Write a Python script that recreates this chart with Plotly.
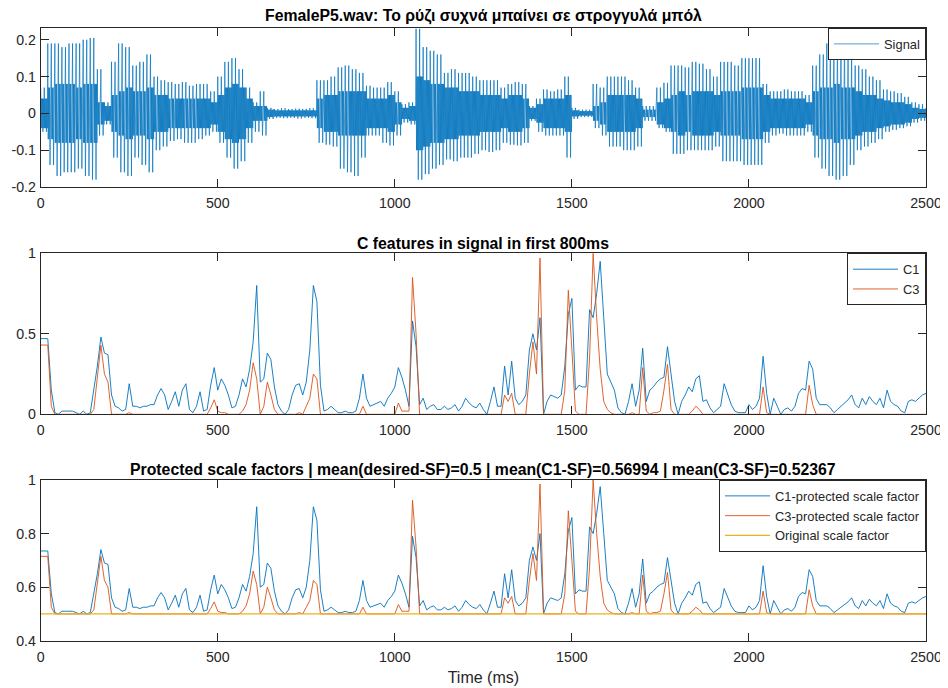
import plotly.graph_objects as go

#------------------------------------------------------------------------------#
#     data                                      #
#------------------------------------------------------------------------------#
# waveform envelope, one value per 20 ms block (outer peaks and dense inner band)
sig_t = list(range(0, 2501, 20))
sig_top = [
    0.07, 0.19, 0.19, 0.18, 0.19, 0.19, 0.2, 0.205, 0.12, 0.03,
    0.14, 0.19, 0.18, 0.13, 0.14, 0.16, 0.1, 0.09, 0.085, 0.08,
    0.085, 0.075, 0.08, 0.08, 0.06, 0.1, 0.14, 0.15, 0.12, 0.07,
    0.03, 0.06, 0.015, 0.012, 0.014, 0.012, 0.013, 0.012, 0.014, 0.09,
    0.09, 0.1, 0.125, 0.13, 0.12, 0.11, 0.075, 0.07, 0.07, 0.085,
    0.06, 0.025, 0.03, 0.23, 0.18, 0.17, 0.16, 0.11, 0.12, 0.11,
    0.11, 0.1, 0.09, 0.09, 0.09, 0.07, 0.08, 0.085, 0.08, 0.02,
    0.04, 0.065, 0.06, 0.065, 0.1, 0.015, 0.01, 0.01, 0.08, 0.07,
    0.1, 0.1, 0.1, 0.09, 0.07, 0.02, 0.02, 0.07, 0.083, 0.13,
    0.13, 0.125, 0.14, 0.135, 0.12, 0.1, 0.14, 0.14, 0.13, 0.15,
    0.15, 0.15, 0.08, 0.06, 0.06, 0.065, 0.06, 0.06, 0.05, 0.13,
    0.16, 0.19, 0.2, 0.2, 0.16, 0.13, 0.12, 0.1, 0.09, 0.065,
    0.06, 0.055, 0.045, 0.03, 0.025, 0.015,
]
sig_bot = [
    -0.05, -0.14, -0.17, -0.16, -0.16, -0.15, -0.17, -0.18, -0.06, -0.03,
    -0.12, -0.16, -0.17, -0.12, -0.14, -0.16, -0.1, -0.09, -0.075, -0.07,
    -0.08, -0.08, -0.07, -0.06, -0.05, -0.08, -0.12, -0.15, -0.13, -0.08,
    -0.05, -0.06, -0.015, -0.012, -0.013, -0.012, -0.014, -0.012, -0.013, -0.08,
    -0.085, -0.09, -0.15, -0.16, -0.17, -0.12, -0.06, -0.06, -0.08, -0.087,
    -0.06, -0.025, -0.03, -0.18, -0.165, -0.15, -0.14, -0.125, -0.13, -0.12,
    -0.12, -0.11, -0.1, -0.105, -0.1, -0.08, -0.085, -0.087, -0.08, -0.02,
    -0.05, -0.06, -0.06, -0.06, -0.12, -0.015, -0.01, -0.01, -0.04, -0.06,
    -0.09, -0.09, -0.1, -0.1, -0.09, -0.02, -0.02, -0.04, -0.05, -0.11,
    -0.11, -0.1, -0.1, -0.1, -0.1, -0.09, -0.13, -0.13, -0.13, -0.14,
    -0.14, -0.14, -0.08, -0.06, -0.055, -0.06, -0.06, -0.06, -0.05, -0.12,
    -0.15, -0.17, -0.18, -0.17, -0.14, -0.1, -0.09, -0.08, -0.07, -0.05,
    -0.045, -0.04, -0.035, -0.025, -0.02, -0.015,
]
sig_core = [
    0.04, 0.07, 0.08, 0.08, 0.08, 0.07, 0.08, 0.08, 0.03, 0.02,
    0.05, 0.06, 0.07, 0.06, 0.06, 0.07, 0.05, 0.05, 0.04, 0.04,
    0.04, 0.04, 0.04, 0.04, 0.03, 0.05, 0.07, 0.08, 0.07, 0.04,
    0.02, 0.02, 0.01, 0.008, 0.008, 0.008, 0.008, 0.008, 0.008, 0.04,
    0.05, 0.05, 0.06, 0.06, 0.06, 0.06, 0.04, 0.04, 0.04, 0.05,
    0.03, 0.015, 0.02, 0.1, 0.09, 0.08, 0.08, 0.07, 0.07, 0.06,
    0.06, 0.06, 0.05, 0.05, 0.05, 0.04, 0.05, 0.05, 0.04, 0.015,
    0.025, 0.04, 0.04, 0.04, 0.05, 0.008, 0.006, 0.006, 0.02, 0.03,
    0.05, 0.05, 0.05, 0.05, 0.04, 0.01, 0.01, 0.03, 0.04, 0.05,
    0.06, 0.05, 0.06, 0.06, 0.06, 0.05, 0.06, 0.06, 0.06, 0.07,
    0.07, 0.07, 0.05, 0.04, 0.04, 0.04, 0.04, 0.04, 0.03, 0.06,
    0.07, 0.07, 0.08, 0.07, 0.07, 0.06, 0.05, 0.05, 0.04, 0.035,
    0.03, 0.03, 0.025, 0.015, 0.012, 0.01,
]

# C features, one value per 10 ms
feat_t = list(range(0, 2501, 10))
c1 = [
    0.47, 0.47, 0.47, 0.15, 0.01, 0.0, 0.02, 0.02, 0.02, 0.02,
    0.01, 0.0, 0.02, 0.0, 0.01, 0.15, 0.3, 0.48, 0.38, 0.37,
    0.12, 0.05, 0.04, 0.02, 0.03, 0.19, 0.05, 0.05, 0.04, 0.05,
    0.05, 0.06, 0.06, 0.12, 0.16, 0.12, 0.03, 0.08, 0.14, 0.05,
    0.15, 0.19, 0.03, 0.01, 0.05, 0.14, 0.02, 0.03, 0.18, 0.29,
    0.15, 0.22, 0.18, 0.12, 0.04, 0.05, 0.12, 0.22, 0.17, 0.28,
    0.45, 0.8, 0.2, 0.22, 0.38, 0.34, 0.17, 0.06, 0.02, 0.0,
    0.03, 0.12, 0.18, 0.19, 0.12, 0.2, 0.4, 0.8, 0.7, 0.18,
    0.02, 0.03, 0.05, 0.03, 0.01, 0.01, 0.02, 0.01, 0.01, 0.02,
    0.1, 0.25, 0.1, 0.05, 0.06, 0.07, 0.08, 0.05, 0.1, 0.13,
    0.17, 0.29, 0.23, 0.15, 0.05, 0.58, 0.42, 0.06, 0.1, 0.03,
    0.05, 0.06, 0.03, 0.03, 0.05, 0.03, 0.04, 0.06, 0.02, 0.05,
    0.1, 0.07, 0.05, 0.04, 0.07, 0.03, 0.0, 0.08, 0.17, 0.05,
    0.05, 0.3, 0.12, 0.33, 0.1, 0.06, 0.08, 0.12, 0.4, 0.5,
    0.4, 0.6, 0.0, 0.08, 0.12, 0.11, 0.1, 0.12, 0.3, 0.62,
    0.72, 0.15, 0.18, 0.17, 0.17, 0.65, 0.6, 0.75, 0.95, 0.6,
    0.25, 0.2, 0.15, 0.04, 0.01, 0.0, 0.08, 0.19, 0.05, 0.15,
    0.41, 0.08, 0.15, 0.17, 0.2, 0.22, 0.23, 0.42, 0.25, 0.08,
    0.0, 0.08, 0.12, 0.17, 0.14, 0.22, 0.24, 0.08, 0.09, 0.04,
    0.01, 0.03, 0.05, 0.19, 0.12, 0.06, 0.02, 0.01, 0.01, 0.01,
    0.06, 0.03, 0.05, 0.1, 0.36, 0.13, 0.0, 0.1, 0.05, 0.0,
    0.03, 0.04, 0.02, 0.05, 0.13, 0.16, 0.15, 0.33, 0.28, 0.1,
    0.06, 0.06, 0.06, 0.04, 0.01, 0.03, 0.05, 0.07, 0.09, 0.12,
    0.06, 0.04, 0.1, 0.06, 0.11, 0.08, 0.06, 0.1, 0.04, 0.15,
    0.08, 0.06, 0.05, 0.02, 0.01, 0.08, 0.09, 0.08, 0.1, 0.12,
    0.13,
]
c3 = [
    0.43, 0.43, 0.43, 0.05, 0, 0, 0, 0, 0, 0,
    0, 0, 0, 0, 0, 0.03, 0.25, 0.43, 0.25, 0.2,
    0, 0, 0, 0, 0, 0.01, 0, 0, 0, 0,
    0, 0, 0, 0, 0, 0, 0, 0, 0, 0,
    0, 0, 0, 0, 0, 0, 0, 0, 0.04, 0.09,
    0.02, 0.01, 0.01, 0, 0, 0, 0, 0.02, 0.06, 0.15,
    0.32, 0.22, 0.0, 0.05, 0.2, 0.12, 0.03, 0, 0, 0,
    0, 0, 0, 0.01, 0, 0.05, 0.1, 0.25, 0.22, 0.0,
    0, 0, 0, 0, 0, 0, 0, 0, 0, 0,
    0, 0.05, 0, 0, 0, 0, 0, 0, 0, 0,
    0, 0.07, 0.02, 0.02, 0.02, 0.85, 0.5, 0, 0, 0,
    0, 0, 0, 0, 0, 0, 0, 0, 0, 0,
    0, 0, 0, 0, 0, 0, 0, 0, 0, 0,
    0, 0.12, 0.08, 0.13, 0, 0, 0, 0, 0.25, 0.45,
    0.25, 0.97, 0, 0, 0, 0, 0, 0, 0.15, 0.77,
    0.4, 0.02, 0, 0, 0, 0.35, 1.0, 0.6, 0.28, 0.08,
    0.03, 0.01, 0, 0, 0, 0, 0, 0.01, 0, 0,
    0.29, 0.02, 0, 0.01, 0.01, 0.02, 0.15, 0.31, 0.03, 0,
    0, 0, 0, 0, 0.02, 0.05, 0.03, 0, 0, 0,
    0, 0, 0, 0, 0, 0, 0, 0, 0, 0,
    0, 0, 0, 0, 0.17, 0.01, 0, 0, 0, 0,
    0, 0, 0, 0, 0, 0, 0, 0.18, 0.06, 0,
    0, 0, 0, 0, 0, 0, 0, 0, 0, 0,
    0, 0, 0, 0, 0, 0, 0, 0, 0, 0,
    0, 0, 0, 0, 0, 0, 0, 0, 0, 0,
    0,
]

# protected scale factors: desired SF 0.5 lifted by half the feature value
desired_sf = 0.5
sf_c1 = [desired_sf + 0.5 * v for v in c1]
sf_c3 = [desired_sf + 0.5 * v for v in c3]
sf_orig = [desired_sf for _ in feat_t]

x_ticks = [0, 500, 1000, 1500, 2000, 2500]
x_labels = ['0', '500', '1000', '1500', '2000', '2500']
y1_ticks = [-0.2, -0.1, 0, 0.1, 0.2]
y1_labels = ['-0.2', '-0.1', '0', '0.1', '0.2']
y2_ticks = [0, 0.5, 1]
y2_labels = ['0', '0.5', '1']
y3_ticks = [0.4, 0.6, 0.8, 1]
y3_labels = ['0.4', '0.6', '0.8', '1']

#------------------------------------------------------------------------------#
#     waveform: two outer swings per block, dense inner band between them      #
#------------------------------------------------------------------------------#
wave_x, wave_y = [], []
for t, hi, lo, core in zip(sig_t, sig_top, sig_bot, sig_core):
    swing = [hi, -core, core, -core, core, lo, core, -core]
    for k, v in enumerate(swing + swing):
        wave_x.append(t + k * 1.25)
        wave_y.append(v)

#------------------------------------------------------------------------------#
#     figure (the page body adds an 8 px margin, so the figure is 8 px short)  #
#------------------------------------------------------------------------------#
FONT = 'Liberation Sans, Arial, Helvetica, sans-serif'
AX = '#262626'
BLUE, RED, YEL = '#0072BD', '#D95319', '#EDB120'
W, H = 940, 680
xdom = [32.7 / W, 918 / W]
doms = [
    [1 - 179 / H, 1 - 20 / H],
    [1 - 406.3 / H, 1 - 245.3 / H],
    [1 - 632.7 / H, 1 - 472 / H],
]

fig = go.Figure()
fig.add_trace(go.Scatter(x=wave_x, y=wave_y, mode='lines', name='Signal',
                         line=dict(color=BLUE, width=0.7),
                         xaxis='x', yaxis='y', legend='legend'))
fig.add_trace(go.Scatter(x=feat_t, y=c1, mode='lines', name='C1',
                         line=dict(color=BLUE, width=0.9),
                         xaxis='x2', yaxis='y2', legend='legend2'))
fig.add_trace(go.Scatter(x=feat_t, y=c3, mode='lines', name='C3',
                         line=dict(color=RED, width=0.9),
                         xaxis='x2', yaxis='y2', legend='legend2'))
fig.add_trace(go.Scatter(x=feat_t, y=sf_c1, mode='lines',
                         name='C1-protected scale factor',
                         line=dict(color=BLUE, width=0.9),
                         xaxis='x3', yaxis='y3', legend='legend3'))
fig.add_trace(go.Scatter(x=feat_t, y=sf_c3, mode='lines',
                         name='C3-protected scale factor',
                         line=dict(color=RED, width=0.9),
                         xaxis='x3', yaxis='y3', legend='legend3'))
fig.add_trace(go.Scatter(x=feat_t, y=sf_orig, mode='lines',
                         name='Original scale factor',
                         line=dict(color=YEL, width=1.2),
                         xaxis='x3', yaxis='y3', legend='legend3'))

axis_style = dict(
    showline=True, linecolor=AX, linewidth=1, mirror='ticks',
    ticks='inside', ticklen=8, tickwidth=1, tickcolor=AX,
    showgrid=False, zeroline=False, automargin=False,
    tickfont=dict(family=FONT, size=14.2, color=AX),
)
legend_style = dict(
    x=xdom[1], xanchor='right', yanchor='top',
    bgcolor='white', bordercolor=AX, borderwidth=1,
    font=dict(family=FONT, size=12.9, color=AX),
    tracegroupgap=0, itemwidth=45,
)

layout = dict(
    width=W, height=H,
    margin=dict(l=0, r=0, t=0, b=0, pad=0, autoexpand=False),
    paper_bgcolor='white', plot_bgcolor='white',
    showlegend=True,
    legend=dict(legend_style, y=doms[0][1]),
    legend2=dict(legend_style, y=doms[1][1]),
    legend3=dict(legend_style, y=doms[2][1]),
)
yinfo = [(y1_ticks, y1_labels, [-0.2, 0.232]),
         (y2_ticks, y2_labels, [0, 1]),
         (y3_ticks, y3_labels, [0.4, 1])]
for i, (yt, yl, yr) in enumerate(yinfo):
    sfx = '' if i == 0 else str(i + 1)
    layout['xaxis' + sfx] = dict(axis_style, domain=xdom, range=[0, 2500],
                                 tickvals=x_ticks, ticktext=x_labels,
                                 ticklabelstandoff=3, anchor='y' + sfx)
    layout['yaxis' + sfx] = dict(axis_style, domain=doms[i], range=yr,
                                 tickvals=yt, ticktext=yl,
                                 ticklabelstandoff=1, anchor='x' + sfx)
layout['xaxis3']['title'] = dict(text='Time (ms)', standoff=8,
                                 font=dict(family=FONT, size=16, color=AX))
fig.update_layout(layout)

#------------------------------------------------------------------------------#
#     panel titles                                                             #
#------------------------------------------------------------------------------#
titles = [
    ('FemaleP5.wav: Το ρύζι συχνά μπαίνει σε στρογγυλά μπόλ', 8),
    ('C features in signal in first 800ms', 235),
    ('Protected scale factors | mean(desired-SF)=0.5 | '
     'mean(C1-SF)=0.56994 | mean(C3-SF)=0.52367', 461),
]
for text, ypx in titles:
    fig.add_annotation(text='<b>' + text + '</b>', xref='paper', yref='paper',
                       x=(xdom[0] + xdom[1]) / 2, y=1 - ypx / H,
                       xanchor='center', yanchor='middle', showarrow=False,
                       font=dict(family=FONT, size=15.8, color='black'))

fig.write_html('out.html')
